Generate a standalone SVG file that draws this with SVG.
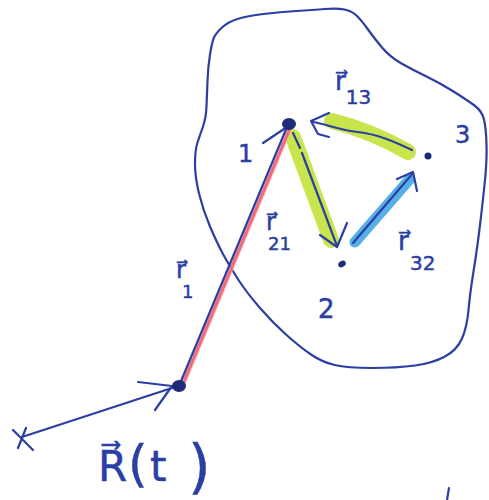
<svg xmlns="http://www.w3.org/2000/svg" width="489" height="500" viewBox="0 0 489 500">
<style>
.pen{fill:none;stroke:#2b3fa3;stroke-width:2.2;stroke-linecap:round;stroke-linejoin:round}
.dot{fill:#1c2c78}
.hl-g{fill:none;stroke:#c3e23a;stroke-width:16;stroke-linecap:round;opacity:0.9}
.hl-b{fill:none;stroke:#42a6e6;stroke-width:11;stroke-linecap:round;opacity:0.9}
.hl-r{fill:none;stroke:#f06a78;stroke-width:3;stroke-linecap:round}
.lbl{font-family:"DejaVu Sans",sans-serif;fill:#2b3fa3;stroke:#2b3fa3;stroke-width:0.5}
</style>
<rect width="489" height="500" fill="#ffffff"/>
<g id="body">
<path class="pen" d="M214,37.5 Q216,33 222,27.5 Q228,22 237.5,19 Q247,16 263.5,14 Q280,12 296.5,11 Q313,10 325,9 Q337,8 344.5,9.5 Q352,11 357,16 Q362,21 368,29.5 Q374,38 382,47.5 Q390,57 401.5,63.5 Q413,70 426.5,76.5 Q440,83 453.5,91.5 Q467,100 474.5,105.5 Q482,111 484,119.5 Q486,128 486.5,144 Q487,160 485,180 Q483,200 480,225 Q477,250 473.5,271.5 Q470,293 468.5,310 Q467,327 462,338.5 Q457,350 445,356.5 Q433,363 415,365.5 Q397,368 372,368 Q347,368 334.5,365 Q322,362 311,354.5 Q300,347 286.5,335 Q273,323 260,308 Q247,293 238.5,280 Q230,267 223.5,255 Q217,243 210,226.5 Q203,210 199,193.5 Q195,177 195,163.5 Q195,150 197.5,142.5 Q200,135 203,126.5 Q206,118 206.5,106.5 Q207,95 207.5,81 Q208,67 210,54.5 Q212,42 214,37.5 Z"/>
</g>
<g id="connectors">
<path class="hl-g" d="M332,121 Q372,131 408,152"/>
<path class="hl-g" d="M293,137 L331,240"/>
<path class="hl-b" d="M355,242 L409,180"/>
<path d="M183,384 L290,128" fill="none" stroke="#f7a8b0" stroke-width="5" stroke-linecap="round" opacity="0.7"/>
<path class="hl-r" d="M183,384 L290,128"/>
<path class="pen" d="M179,386 L287,127"/>
<path class="pen" d="M263,143 L287,127"/>
<path class="pen" d="M412,150 C395,142 377,134 358,132 S326,124 313,122"/>
<path class="pen" d="M329,113 L311,121 L318,134 L329,137"/>
<path class="pen" d="M293,133 L300,148 M302,153 L337,246"/>
<path class="pen" d="M320,235 L337,247 L347,223"/>
<path class="pen" d="M353,243 L413,173"/>
<path class="pen" d="M397,179 L413,172 L417,191"/>
<path class="pen" d="M22,437 L175,387"/>
<path class="pen" d="M138,382 L172,386 L155,410"/>
<path class="pen" d="M449,488 L447,500"/>
</g>
<g id="p1"><ellipse class="dot" cx="289" cy="124" rx="7" ry="6"/><text class="lbl" x="238" y="162" font-size="24">1</text></g>
<g id="p2"><ellipse class="dot" cx="342" cy="264" rx="4" ry="3" transform="rotate(-30 342 264)"/><text class="lbl" x="318" y="318" font-size="26">2</text></g>
<g id="p3"><circle class="dot" cx="428" cy="156" r="3.5"/><text class="lbl" x="455" y="143" font-size="24">3</text></g>
<g id="pR"><ellipse class="dot" cx="179" cy="386" rx="7" ry="6"/></g>
<g id="pX"><path class="pen" d="M13,430 L33,450 M18,448 L26,428"/></g>
<g id="labels">
<text class="lbl" x="335" y="90" font-size="26">r&#x20D7;<tspan font-size="20" dy="14">13</tspan></text>
<text class="lbl" x="266" y="230" font-size="24">r&#x20D7;<tspan font-size="18" x="268" dy="20">21</tspan></text>
<text class="lbl" x="398" y="250" font-size="26">r&#x20D7;<tspan font-size="20" x="410" dy="20">32</tspan></text>
<text class="lbl" x="176" y="278" font-size="24">r&#x20D7;<tspan font-size="18" x="182" dy="20">1</tspan></text>
<text class="lbl" y="481"><tspan x="98" font-size="42">R&#x20D7;</tspan><tspan x="128" font-size="50">(</tspan><tspan x="150" font-size="42">t</tspan><tspan x="188" font-size="58" dy="6">)</tspan></text>
</g>
</svg>
